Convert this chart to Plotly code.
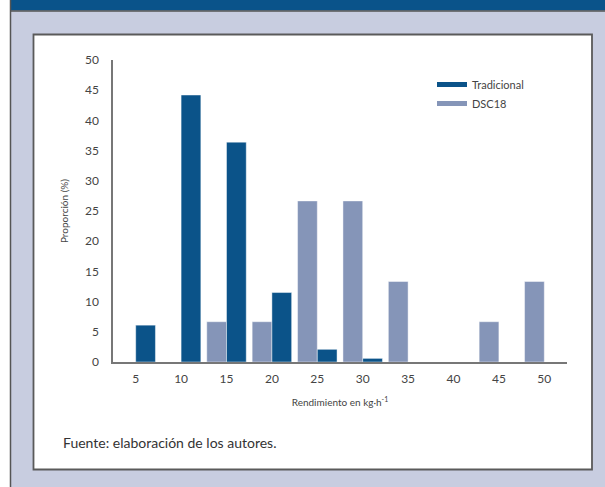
import plotly.graph_objects as go

categories = ["5", "10", "15", "20", "25", "30", "35", "40", "45", "50"]
tradicional = [6.1, 44.2, 36.4, 11.5, 2.1, 0.6, 0, 0, 0, 0]
dsc18 = [0, 0, 6.67, 6.67, 26.67, 26.67, 13.33, 0, 6.67, 13.33]
y_ticks = [0, 5, 10, 15, 20, 25, 30, 35, 40, 45, 50]

C_TRAD = "#0b5389"
C_DSC = "#8595b8"
LAV = "#c8cde0"
FONT = "Lato, 'Open Sans', sans-serif"

W, H = 605, 487
L, R, T, B = 113, 567, 60, 362

def px(x):
    return (x - L) / (R - L)

def py(y):
    return (B - y) / (B - T)

fig = go.Figure()
fig.add_trace(go.Bar(x=categories, y=dsc18, name="DSC18", marker=dict(color=C_DSC, line=dict(color="rgba(255,255,255,0.45)", width=1)), showlegend=False))
fig.add_trace(go.Bar(x=categories, y=tradicional, name="Tradicional", marker=dict(color=C_TRAD, line=dict(color="rgba(255,255,255,0.45)", width=1)), showlegend=False))
# legend entries drawn as short thick lines
fig.add_trace(go.Scatter(x=[None], y=[None], mode="lines", name="Tradicional", line=dict(color=C_TRAD, width=5)))
fig.add_trace(go.Scatter(x=[None], y=[None], mode="lines", name="DSC18", line=dict(color=C_DSC, width=5)))

shapes = [
    dict(type="rect", xref="paper", yref="paper", x0=px(-5), x1=px(10), y0=py(-5), y1=py(H + 5), fillcolor="white", line=dict(width=0), layer="below"),
    dict(type="rect", xref="paper", yref="paper", x0=px(10.5), x1=px(W + 5), y0=py(-5), y1=py(10.5), fillcolor="#0a538a", line=dict(width=0), layer="below"),
    dict(type="line", xref="paper", yref="paper", x0=px(10.5), x1=px(10.5), y0=py(0), y1=py(H + 5), line=dict(color="#555", width=1.5), layer="below"),
    dict(type="line", xref="paper", yref="paper", x0=px(10.5), x1=px(W + 5), y0=py(11), y1=py(11), line=dict(color="#555", width=1.5), layer="below"),
    dict(type="rect", xref="paper", yref="paper", x0=px(33.5), x1=px(592), y0=py(469.5), y1=py(34.5), fillcolor="white", line=dict(color="#5a5a5a", width=1.8), layer="below"),
]

fig.update_layout(
    width=W, height=H,
    margin=dict(l=L, r=W - R, t=T, b=H - B, pad=0),
    paper_bgcolor=LAV, plot_bgcolor="rgba(0,0,0,0)",
    barmode="group", bargap=0.13, bargroupgap=0,
    font=dict(family=FONT, color="#333", size=12),
    shapes=shapes,
    showlegend=True,
    legend=dict(x=px(432), y=py(70), xanchor="left", yanchor="top", bgcolor="rgba(0,0,0,0)",
                font=dict(size=11, color="#444"), itemwidth=30, tracegroupgap=0),
    xaxis=dict(type="category", showline=True, linecolor="#777", linewidth=1.5, showgrid=False,
               ticks="outside", ticklen=5, tickcolor="rgba(0,0,0,0)", tickfont=dict(size=12, color="#444"),
               title=dict(text="Rendimiento en kg·h<sup>-1</sup>", font=dict(size=10, color="#444"), standoff=14),
               fixedrange=True),
    yaxis=dict(range=[0, 50], tickvals=y_ticks, showline=True, linecolor="#777", linewidth=1.5, showgrid=False,
               zeroline=False, ticks="outside", ticklen=10, tickcolor="rgba(0,0,0,0)", tickfont=dict(size=12, color="#444"),
               title=dict(text="Proporción (%)", font=dict(size=10, color="#444"), standoff=14),
               fixedrange=True),
    annotations=[dict(text="Fuente: elaboración de los autores.", xref="paper", yref="paper",
                      x=px(61), y=py(442), xanchor="left", yanchor="middle", showarrow=False,
                      font=dict(size=14, color="#333", family=FONT))],
)

fig.write_html("out.html", config={"displayModeBar": False},
               post_script="document.body.style.margin='0';document.body.style.overflow='hidden';")
